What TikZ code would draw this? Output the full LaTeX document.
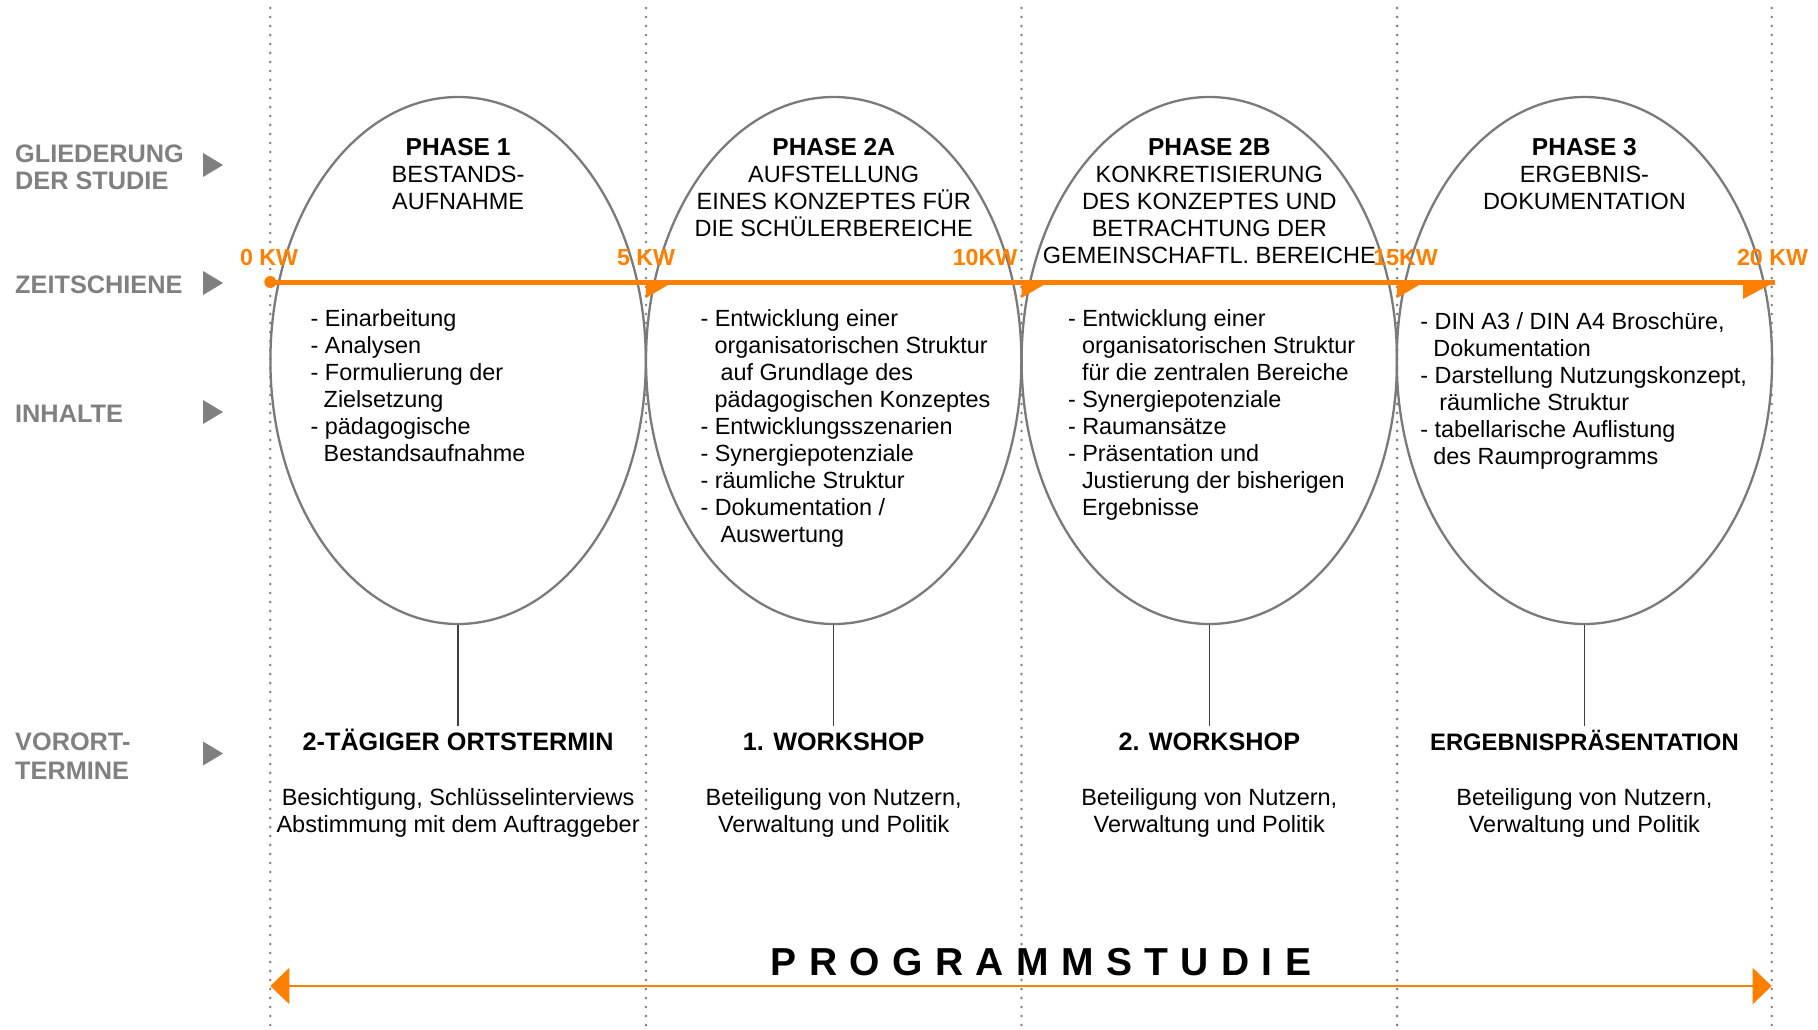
\documentclass[tikz,border=0pt]{standalone}
\usepackage{fontspec}
\setmainfont{Liberation Sans}
\usetikzlibrary{shapes.geometric,arrows.meta}
\definecolor{kworange}{HTML}{FF8000}
\definecolor{lblgray}{HTML}{808080}
\definecolor{ellgray}{HTML}{7A7A7A}
\definecolor{dotgray}{HTML}{7F7F7F}
\definecolor{conngray}{HTML}{404040}
\newcommand\clines[1]{\vtop{\baselineskip=27pt\lineskiplimit=-100pt\lineskip=0pt\halign{\hfil##\hfil\cr#1\crcr}}}
\newcommand\llines[2][27pt]{\vtop{\baselineskip=#1\lineskiplimit=-100pt\lineskip=0pt\halign{##\hfil\cr#2\crcr}}}
\newcommand\ind[1]{\hskip#1pt\relax}
\newcommand\bt[1]{{\fontsize{24.5}{27}\selectfont\bfseries #1}}
\newcommand\progsp{\kern12.4pt}
\tikzset{
  ttl/.style={inner sep=0pt, anchor=base, font=\fontsize{23.5}{27}\selectfont},
  lst/.style={inner sep=0pt, anchor=base west, font=\fontsize{23.4}{27}\selectfont},
  wtitle/.style={inner sep=0pt, anchor=base, font=\fontsize{25.2}{27}\selectfont\bfseries},
  kw/.style={inner sep=0pt, anchor=base, text=kworange, font=\fontsize{23.2}{27}\selectfont\bfseries},
  side/.style={inner sep=0pt, anchor=base west, text=lblgray, font=\fontsize{25.3}{28}\selectfont\bfseries},
  phase/.style={ellipse, draw=ellgray, line width=2.3pt, minimum width=375.4pt, minimum height=527pt, inner sep=0pt},
  conn/.style={draw=conngray, line width=1.3pt},
  gridline/.style={draw=dotgray, line width=2.8pt, dash pattern=on 0pt off 9pt, line cap=round},
  timeline/.style={draw=kworange, line width=5pt},
  sidetri/.style={fill=lblgray},
  marker/.style={fill=kworange},
  spanarrow/.style={draw=kworange, line width=2pt, {Triangle[length=19pt,width=36pt]}-{Triangle[length=19pt,width=36pt]}}
}
\begin{document}
\begin{tikzpicture}[x=1pt,y=-1pt]
\useasboundingbox (0,0) rectangle (1818,1030);
% vertical dotted grid lines
\foreach \i/\x in {0/270.3,1/645.9,2/1021.5,3/1397.1,4/1771.7}{
  \coordinate (g\i t) at (\x,8);
  \coordinate (g\i b) at (\x,1026);
  \draw[gridline] (g\i t) -- (g\i b);
}
% ellipses
\node[phase] (e1) at (458.1,360.5) {};
\node[phase] (e2) at (833.7,360.5) {};
\node[phase] (e3) at (1209.3,360.5) {};
\node[phase] (e4) at (1584.4,360.5) {};
% connectors to on-site meetings
\coordinate (v1) at (458.1,726);
\coordinate (v2) at (833.7,726);
\coordinate (v3) at (1209.3,726);
\coordinate (v4) at (1584.4,726);
\draw[conn] (e1.south) -- (v1);
\draw[conn] (e2.south) -- (v2);
\draw[conn] (e3.south) -- (v3);
\draw[conn] (e4.south) -- (v4);
% timeline
\coordinate (k0) at (270.3,282);
\coordinate (k5) at (645.9,282);
\coordinate (k10) at (1021.5,282);
\coordinate (k15) at (1397.1,282);
\coordinate (k20) at (1743,282);
\coordinate (kend) at (1775,282);
\draw[timeline] (k0) -- (kend);
\fill[kworange] (k0) circle (6pt);
\fill[marker] (k5) -- ++(0,16) -- ++(27,-16) -- cycle;
\fill[marker] (k10) -- ++(0,16) -- ++(27,-16) -- cycle;
\fill[marker] (k15) -- ++(0,16) -- ++(27,-16) -- cycle;
\fill[marker] (k20) -- ++(0,17) -- ++(32,-17) -- cycle;
\node[kw] (kw0) at (269,265) {0 KW};
\node[kw] (kw5) at (646,265) {5 KW};
\node[kw] (kw10) at (985,265) {10KW};
\node[kw] (kw15) at (1405.5,265) {15KW};
\node[kw] (kw20) at (1772.5,265) {20 KW};
% left side labels
\node[side] (l1) at (15,162) {\llines[28pt]{GLIEDERUNG\cr DER STUDIE}};
\node[side] (l2) at (15,293) {ZEITSCHIENE};
\node[side] (l3) at (15,422) {INHALTE};
\node[side] (l4) at (15,750) {\llines[29pt]{VORORT-\cr TERMINE}};
\fill[sidetri] (213,165) ++(-10,-12) -- ++(0,24) -- ++(20,-12) -- cycle;
\fill[sidetri] (213,283) ++(-10,-12) -- ++(0,24) -- ++(20,-12) -- cycle;
\fill[sidetri] (213,412) ++(-10,-12) -- ++(0,24) -- ++(20,-12) -- cycle;
\fill[sidetri] (213,753.5) ++(-10,-12) -- ++(0,24) -- ++(20,-12) -- cycle;
% phase titles
\node[ttl] (p1) at (458.1,156) {\clines{\bt{PHASE 1}\cr BESTANDS-\cr AUFNAHME}};
\node[ttl] (p2) at (833.7,156) {\clines{\bt{PHASE 2A}\cr AUFSTELLUNG\cr EINES KONZEPTES FÜR\cr DIE SCHÜLERBEREICHE}};
\node[ttl] (p3) at (1209.3,156) {\clines{\bt{PHASE 2B}\cr KONKRETISIERUNG\cr DES KONZEPTES UND\cr BETRACHTUNG DER\cr GEMEINSCHAFTL. BEREICHE}};
\node[ttl] (p4) at (1584.4,156) {\clines{\bt{PHASE 3}\cr ERGEBNIS-\cr DOKUMENTATION}};
% contents
\node[lst] (c1) at (310.5,326.7) {\llines{- Einarbeitung\cr - Analysen\cr - Formulierung der\cr \ind{13}Zielsetzung\cr - pädagogische\cr \ind{13}Bestandsaufnahme}};
\node[lst] (c2) at (700.3,326.7) {\llines{- Entwicklung einer\cr \ind{14}organisatorischen Struktur\cr \ind{20}auf Grundlage des\cr \ind{14}pädagogischen Konzeptes\cr - Entwicklungsszenarien\cr - Synergiepotenziale\cr - räumliche Struktur\cr - Dokumentation /\cr \ind{20}Auswertung}};
\node[lst] (c3) at (1067.8,326.7) {\llines{- Entwicklung einer\cr \ind{14}organisatorischen Struktur\cr \ind{14}für die zentralen Bereiche\cr - Synergiepotenziale\cr - Raumansätze\cr - Präsentation und\cr \ind{14}Justierung der bisherigen\cr \ind{14}Ergebnisse}};
\node[lst] (c4) at (1420.2,329) {\llines{- DIN A3 / DIN A4 Broschüre,\cr \ind{13}Dokumentation\cr - Darstellung Nutzungskonzept,\cr \ind{19}räumliche Struktur\cr - tabellarische Auflistung\cr \ind{13}des Raumprogramms}};
% on-site meetings
\node[wtitle] (w1) at (458.1,750) {2-TÄGIGER ORTSTERMIN};
\node[wtitle] (w2) at (833.7,750) {1. WORKSHOP};
\node[wtitle] (w3) at (1209.3,750) {2. WORKSHOP};
\node[wtitle, font=\fontsize{23.8}{27}\selectfont\bfseries] (w4) at (1584.4,750) {ERGEBNISPRÄSENTATION};
\node[ttl] (d1) at (458.1,805.5) {\clines{Besichtigung, Schlüsselinterviews\cr Abstimmung mit dem Auftraggeber}};
\node[ttl] (d2) at (833.7,805.5) {\clines{Beteiligung von Nutzern,\cr Verwaltung und Politik}};
\node[ttl] (d3) at (1209.3,805.5) {\clines{Beteiligung von Nutzern,\cr Verwaltung und Politik}};
\node[ttl] (d4) at (1584.4,805.5) {\clines{Beteiligung von Nutzern,\cr Verwaltung und Politik}};
% programme study span
\node[inner sep=0pt, anchor=base, font=\fontsize{39}{40}\selectfont\bfseries] (prog) at (1041,975) {P\progsp R\progsp O\progsp G\progsp R\progsp A\progsp M\progsp M\progsp S\progsp T\progsp U\progsp D\progsp I\progsp E};
\coordinate (b0) at (270.3,986);
\coordinate (b1) at (1771.7,986);
\draw[spanarrow] (b0) -- (b1);
\end{tikzpicture}
\end{document}
